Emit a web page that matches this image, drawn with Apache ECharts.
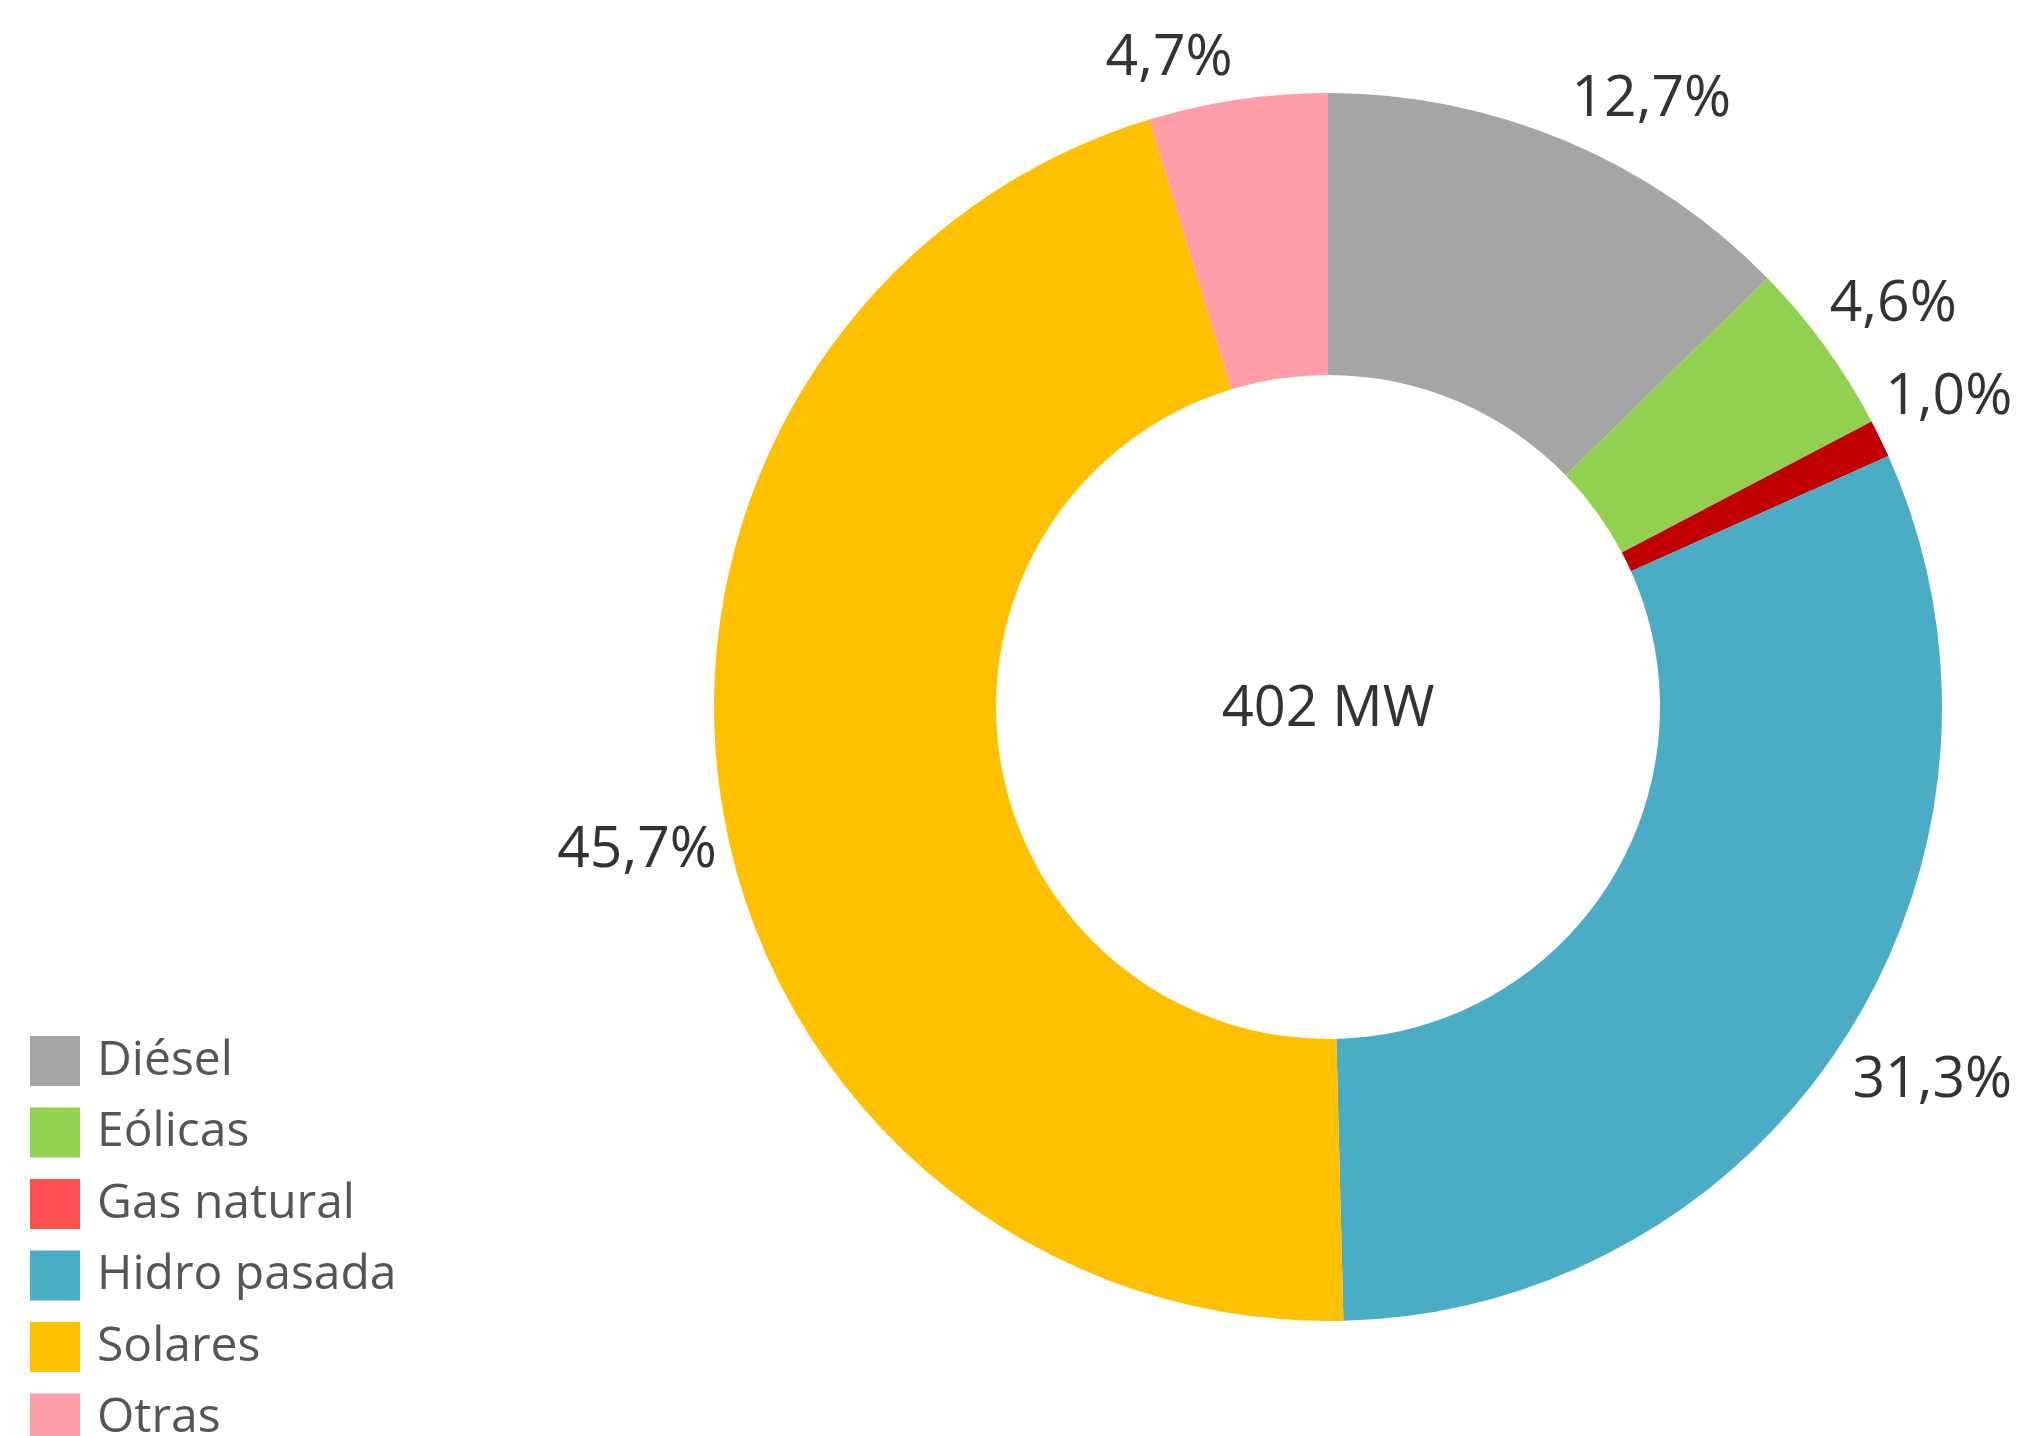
<!DOCTYPE html>
<html>
<head>
<meta charset="utf-8">
<script src="https://cdn.jsdelivr.net/npm/echarts@6/dist/echarts.min.js"></script>
<style>html,body{margin:0;padding:0;background:#fff;}#c{width:2039px;height:1436px;}</style>
</head>
<body>
<div id="c"></div>
<script>
const categories = ['Diésel', 'Eólicas', 'Gas natural', 'Hidro pasada', 'Solares', 'Otras'];
const shares = [12.7, 4.6, 1.0, 31.3, 45.7, 4.7];
const sliceColors = ['#A5A5A5', '#92D050', '#C00000', '#4BACC6', '#FFC000', '#FF9DA7'];
const legendColors = ['#A5A5A5', '#92D050', '#FF5050', '#4BACC6', '#FFC000', '#FF9DA7'];
const totalLabel = '402 MW';

const FONT = '"Open Sans", "Noto Sans", sans-serif';
const chart = echarts.init(document.getElementById('c'), null, {renderer: 'canvas'});

const cx = 1328, cy = 707;
const upper = categories.map((name, i) => {
  const cum = shares.slice(0, i).reduce((a, b) => a + b, 0) + shares[i] / 2;
  return Math.cos(cum / 100 * 2 * Math.PI) > 0;
});
const data = categories.map((name, i) => ({
  name,
  value: shares[i],
  itemStyle: {color: sliceColors[i]}
}));

chart.setOption({
  animation: false,
  backgroundColor: '#ffffff',
  title: {
    text: totalLabel,
    left: cx, top: cy + 3,
    textAlign: 'center', textVerticalAlign: 'middle',
    padding: 0,
    textStyle: {fontFamily: FONT, fontSize: 56, fontWeight: 'normal', color: '#333333'}
  },
  legend: {
    orient: 'vertical',
    left: 30, top: 1036,
    height: 600,
    padding: 0,
    icon: 'rect',
    itemWidth: 50, itemHeight: 50, itemGap: 21.5,
    textStyle: {fontFamily: FONT, fontSize: 48, color: '#555555', lineHeight: 50, padding: [0, 0, 0, 12]},
    data: categories.map((n, i) => ({name: n, itemStyle: {color: legendColors[i]}}))
  },
  series: [{
    type: 'pie',
    left: -300, right: -300, top: -300, bottom: -300,
    center: [cx + 300, cy + 300],
    radius: [332, 614],
    startAngle: 90,
    clockwise: true,
    avoidLabelOverlap: false,
    itemStyle: {borderWidth: 0},
    label: {
      show: true,
      position: 'outside',
      overflow: 'none',
      formatter: p => p.value.toFixed(1).replace('.', ',') + '%',
      fontFamily: FONT, fontSize: 57, color: '#333333',
      distanceToLabelLine: 5
    },
    labelLine: {show: false, length: 0, length2: 0},
    labelLayout: p => ({hideOverlap: false, dy: upper[p.dataIndex] ? -41 : 46}),
    emphasis: {disabled: true},
    data
  }]
});
</script>
</body>
</html>
